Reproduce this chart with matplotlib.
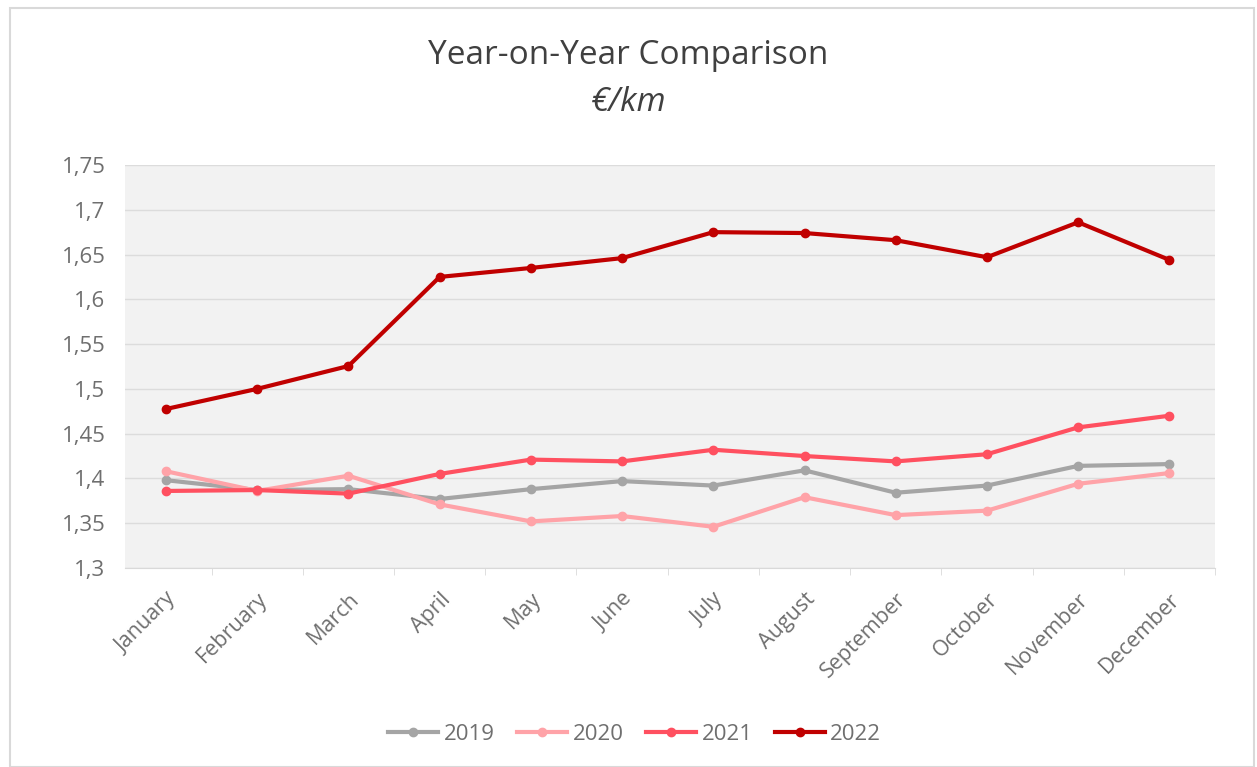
import matplotlib.pyplot as plt
from matplotlib.ticker import FuncFormatter, FixedLocator
from matplotlib.patches import Rectangle

plt.rcParams['font.family'] = ['Open Sans', 'DejaVu Sans']

months = ["January", "February", "March", "April", "May", "June", "July",
          "August", "September", "October", "November", "December"]
y2019 = [1.398, 1.387, 1.388, 1.377, 1.388, 1.397, 1.392, 1.409, 1.384, 1.392, 1.414, 1.416]
y2020 = [1.408, 1.386, 1.403, 1.371, 1.352, 1.358, 1.346, 1.379, 1.359, 1.364, 1.394, 1.406]
y2021 = [1.386, 1.387, 1.383, 1.405, 1.421, 1.419, 1.432, 1.425, 1.419, 1.427, 1.457, 1.470]
y2022 = [1.4775, 1.500, 1.5255, 1.625, 1.635, 1.646, 1.675, 1.674, 1.666, 1.647, 1.686, 1.644]

series = [("2019", y2019, "#A5A5A5"),
          ("2020", y2020, "#FFA3A8"),
          ("2021", y2021, "#FF5060"),
          ("2022", y2022, "#C00000")]

fig = plt.figure(figsize=(12.57, 7.67), dpi=100)
fig.patches.append(Rectangle((0.008, 0.0), 0.99, 0.99, transform=fig.transFigure,
                             fill=False, edgecolor="#D9D9D9", linewidth=1.5))

ax = fig.add_axes([0.0994, 0.2595, 0.8672, 0.5254])
ax.set_facecolor("#F2F2F2")

x = list(range(len(months)))
for name, vals, col in series:
    ax.plot(x, vals, color=col, linewidth=3, marker="o", markersize=6, label=name)

ax.set_ylim(1.3, 1.75)
ax.set_xlim(-0.45, 11.5)
ax.set_yticks([1.3 + 0.05 * i for i in range(10)])
ax.yaxis.set_major_formatter(FuncFormatter(lambda v, p: ("%g" % round(v, 2)).replace(".", ",")))
ax.grid(axis="y", color="#DCDCDC", linewidth=1)
ax.set_axisbelow(True)

ax.set_xticks(x)
ax.set_xticklabels(months, rotation=45, ha="right", rotation_mode="anchor")
ax.xaxis.set_minor_locator(FixedLocator([i - 0.5 for i in range(13)]))
ax.tick_params(axis="x", which="major", length=0, pad=15, labelsize=15.5, labelcolor="#6F6F6F")
ax.tick_params(axis="x", which="minor", length=5, color="#D9D9D9")
ax.tick_params(axis="y", length=0, labelsize=16, labelcolor="#6F6F6F", pad=14)

for s in ["top", "right", "left"]:
    ax.spines[s].set_visible(False)
ax.spines["bottom"].set_color("#D9D9D9")

fig.text(0.5, 0.927, "Year-on-Year Comparison", ha="center", va="center",
         fontsize=24, color="#404040")
fig.text(0.5, 0.866, "€/km", ha="center", va="center", fontsize=24,
         color="#404040", style="italic")

fig.legend(loc="center", bbox_to_anchor=(0.505, 0.043), ncol=4, frameon=False,
           fontsize=16, labelcolor="#6F6F6F", handlelength=2.25, handletextpad=0.25,
           columnspacing=1.0)

fig.savefig("out.png", dpi=100)
